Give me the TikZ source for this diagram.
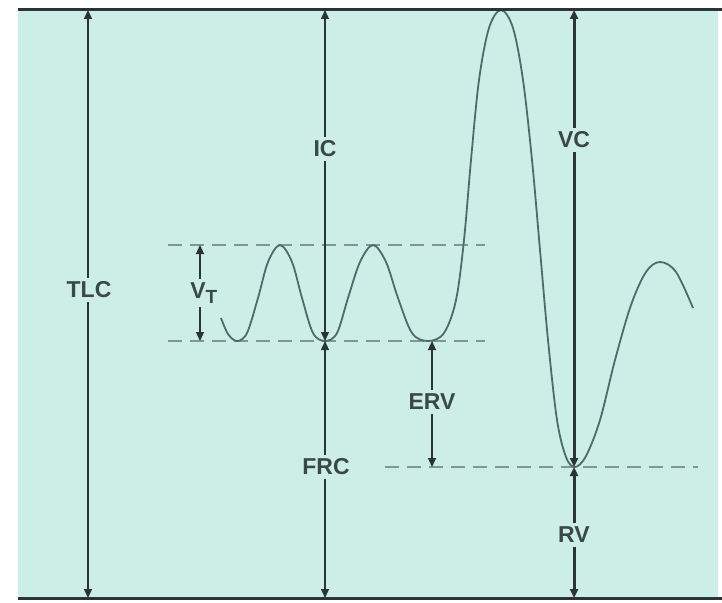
\documentclass[tikz,border=0pt]{standalone}
\usepackage{fontspec}
\setmainfont{Liberation Sans}
\usetikzlibrary{arrows.meta}
\definecolor{bg}{HTML}{CDEEE6}
\definecolor{ink}{HTML}{2A3533}
\definecolor{curve}{HTML}{4F6B67}
\definecolor{dash}{HTML}{7E9894}
\definecolor{txt}{HTML}{3A4846}
\tikzset{
  frame/.style={line width=3pt, draw=ink},
  dim/.style={draw=ink, line width=1.4pt, {Triangle[length=9pt,width=8pt]}-{Triangle[length=9pt,width=8pt]}},
  dimthick/.style={dim, line width=3pt},
  guide/.style={draw=dash, line width=2pt, dash pattern=on 14pt off 8pt},
  lab/.style={fill=bg, text=txt, font=\bfseries\fontsize{23}{25}\selectfont, inner sep=4pt},
  wave/.style={draw=curve, line width=1.8pt}
}
\begin{document}
\begin{tikzpicture}[x=1pt,y=-1pt]
\useasboundingbox (0,0) rectangle (722,602);
\fill[bg] (18,10) rectangle (718,598);
% guide lines
\coordinate (t1) at (168,245); \coordinate (t2) at (485,245);
\coordinate (b1) at (168,341); \coordinate (b2) at (485,341);
\coordinate (r1) at (385,467); \coordinate (r2) at (698,467);
\draw[guide] (t1) -- (t2);
\draw[guide] (b1) -- (b2);
\draw[guide] (r1) -- (r2);
% curve
\draw[wave] plot[smooth, tension=0.55] coordinates {
 (221,318) (228,334) (237,341) (247,333) (258,298) (268,262) (280,245) (292,262) (302,298) (313,333) (325,341)
 (337,333) (348,298) (360,262) (373,245) (386,262) (398,298) (412,333) (428,341)
 (444,333) (456,300) (464,240) (471,160) (479,80) (489,28) (501,10) (513,28) (523,80) (532,160) (540,250)
 (548,340) (557,420) (566,457) (575,467) (586,456) (600,420) (615,360) (631,305) (646,272) (660,262) (676,272) (693,308)};
% frame lines
\coordinate (TL) at (18,10); \coordinate (TR) at (722,10);
\coordinate (BL) at (18,598); \coordinate (BR) at (722,598);
\draw[frame] (TL) -- (TR);
\draw[frame] (BL) -- (BR);
% end points
\coordinate (tlcT) at (88,10); \coordinate (tlcB) at (88,598);
\coordinate (icT) at (325,10); \coordinate (icB) at (325,341);
\coordinate (frcT) at (325,341); \coordinate (frcB) at (325,598);
\coordinate (vcT) at (574,10); \coordinate (vcB) at (574,467);
\coordinate (rvT) at (574,467); \coordinate (rvB) at (574,598);
\coordinate (vtT) at (200,245); \coordinate (vtB) at (200,341);
\coordinate (erT) at (432,341); \coordinate (erB) at (432,467);
\draw[dim] (tlcT) -- (tlcB);
\draw[dim] (icT) -- (icB);
\draw[dim] (frcT) -- (frcB);
\draw[dimthick] (vcT) -- (vcB);
\draw[dimthick] (rvT) -- (rvB);
\draw[dim] (vtT) -- (vtB);
\draw[dim] (erT) -- (erB);
% labels
\node[lab] (tlc) at (89,290) {TLC};
\node[lab] (ic) at (325,149) {IC};
\node[lab] (frc) at (326,467) {FRC};
\node[lab] (vc) at (574,140) {VC};
\node[lab] (rv) at (574,535) {RV};
\node[lab] (erv) at (432,402) {ERV};
\node[lab] (vt) at (204,293) {V\textsubscript{\fontsize{19}{20}\selectfont T}};
\end{tikzpicture}
\end{document}
